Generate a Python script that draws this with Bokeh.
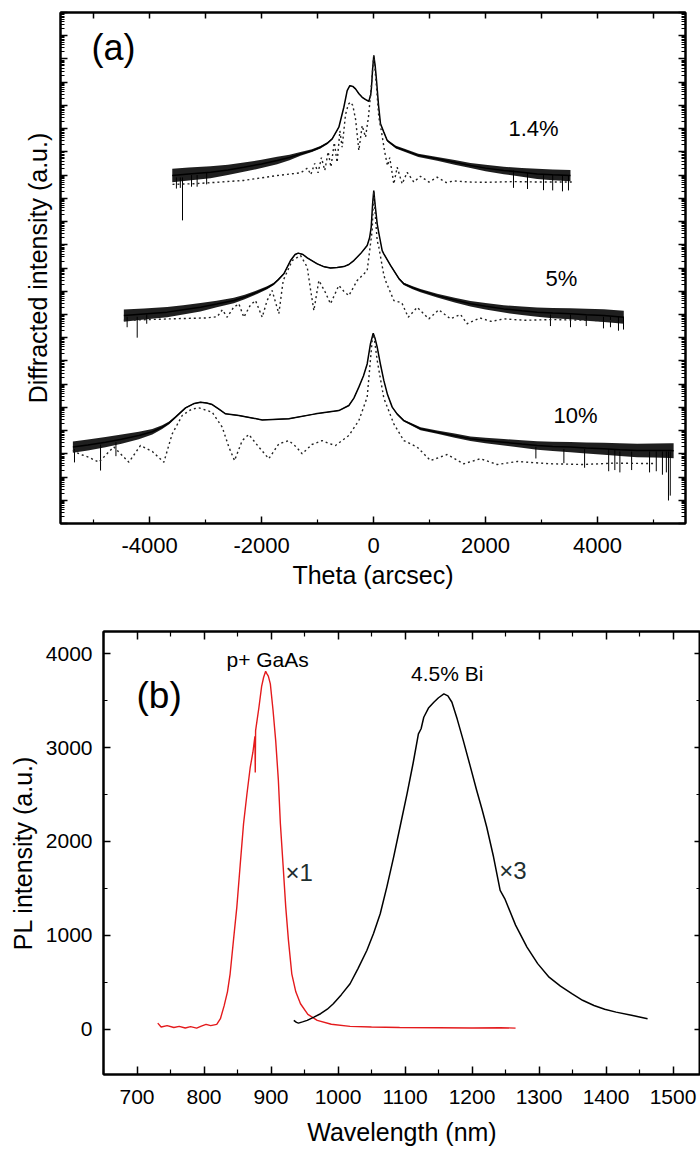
from bokeh.plotting import figure
from bokeh.models import FixedTicker, LinearAxis, LogAxis, Range1d, Label, CustomJSTickFormatter
from bokeh.embed import file_html
from bokeh.resources import INLINE

FONT = "Liberation Sans"

# ---------------- Panel (a): XRD rocking curves (theta in arcsec, log10 intensity in decades)
# 1.4 % measured
x_14 = [-3594, -3300, -2911, -2600, -2316, -2000, -1720, -1500, -1304, -1100, -947, -820, -738, -619,
        -530, -470, -423, -370, -321, -260, -202, -140, -84, -50, -36, -15, 5, 30, 54, 90, 125, 184,
        245, 304, 400, 541, 800, 1137, 1450, 1732, 2000, 2327, 2650, 2923, 3200, 3518]
d_14 = [14.98, 15.05, 15.12, 15.22, 15.34, 15.48, 15.63, 15.76, 15.91, 16.05, 16.20, 16.38, 16.56, 17.06,
        17.92, 18.64, 18.85, 18.82, 18.71, 18.50, 18.35, 18.25, 18.18, 18.45, 18.78, 19.60, 20.15, 19.70,
        19.07, 18.00, 17.21, 16.85, 16.49, 16.38, 16.20, 16.08, 15.85, 15.70, 15.55, 15.41, 15.30, 15.20,
        15.12, 15.05, 15.01, 14.98]
n_14 = [0.29, 0.28, 0.26, 0.22, 0.20, 0.18, 0.16, 0.12, 0.08, 0.06, 0.05, 0.04, 0.03, 0.02,
        0.02, 0.02, 0.02, 0.02, 0.02, 0.02, 0.02, 0.02, 0.02, 0.02, 0.02, 0.02, 0.02, 0.02,
        0.02, 0.02, 0.02, 0.03, 0.04, 0.05, 0.06, 0.06, 0.07, 0.08, 0.10, 0.11, 0.14, 0.16,
        0.19, 0.22, 0.23, 0.24]
# 1.4 % simulated
xs_14 = [-3590, -3200, -2800, -2320, -1720, -1300, -1180, -1120, -1050, -990, -930, -870, -810, -760,
         -700, -650, -600, -560, -500, -450, -410, -370, -320, -262, -202, -143, -90, -40, 5, 50, 95,
         140, 200, 250, 290, 363, 423, 512, 601, 720, 839, 990, 1137, 1300, 1435, 1700, 2030, 2500,
         3000, 3550]
ds_14 = [14.60, 14.63, 14.69, 14.77, 14.98, 15.10, 15.30, 15.02, 15.50, 15.10, 15.75, 15.20, 16.00, 15.35,
         16.40, 15.55, 16.90, 16.20, 17.60, 18.05, 18.14, 18.00, 17.40, 16.06, 17.13, 16.63, 17.50, 18.80,
         20.15, 18.90, 17.49, 16.90, 16.00, 15.40, 15.75, 14.62, 15.34, 14.62, 15.12, 14.70, 14.95, 14.70,
         14.91, 14.68, 14.75, 14.70, 14.69, 14.72, 14.70, 14.70]

# 5 % measured
x_5 = [-4459, -4100, -3685, -3400, -3090, -2800, -2495, -2300, -2078, -1900, -1780, -1700, -1601, -1482,
       -1400, -1345, -1260, -1184, -1005, -880, -768, -650, -530, -440, -351, -230, -113, -70, -41, -15,
       5, 30, 66, 95, 155, 184, 304, 452, 541, 700, 839, 1137, 1450, 1732, 2000, 2327, 2650, 2923, 3200,
       3518, 3800, 4113, 4470]
d_5 = [8.95, 9.02, 9.10, 9.20, 9.31, 9.45, 9.60, 9.75, 9.96, 10.15, 10.32, 10.50, 10.75, 11.32,
       11.58, 11.64, 11.58, 11.44, 11.18, 11.05, 11.00, 11.02, 11.06, 11.15, 11.32, 11.62, 11.97, 12.30,
       12.76, 13.80, 14.33, 13.70, 12.90, 12.50, 11.75, 11.61, 11.11, 10.55, 10.32, 10.15, 10.03, 9.81,
       9.62, 9.46, 9.35, 9.24, 9.16, 9.10, 9.06, 9.03, 8.99, 8.95, 8.88]
n_5 = [0.26, 0.24, 0.22, 0.20, 0.18, 0.14, 0.12, 0.10, 0.08, 0.06, 0.05, 0.04, 0.03, 0.02,
       0.02, 0.02, 0.02, 0.02, 0.02, 0.02, 0.02, 0.02, 0.02, 0.02, 0.02, 0.02, 0.02, 0.02,
       0.02, 0.02, 0.02, 0.02, 0.02, 0.02, 0.02, 0.03, 0.04, 0.04, 0.05, 0.06, 0.07, 0.08,
       0.10, 0.12, 0.14, 0.16, 0.18, 0.20, 0.22, 0.24, 0.26, 0.27, 0.28]
# 5 % simulated
xs_5 = [-4459, -4000, -3500, -3000, -2792, -2700, -2613, -2500, -2405, -2316, -2200, -2107, -1988, -1900,
        -1810, -1691, -1613, -1452, -1304, -1184, -1120, -1065, -976, -870, -768, -619, -530, -440, -292,
        -113, -24, 5, 40, 66, 95, 184, 214, 363, 506, 620, 780, 988, 1166, 1375, 1554, 1673, 1900, 2100,
        2327, 2700, 3200, 3800, 4470]
ds_5 = [8.75, 8.78, 8.82, 8.85, 8.90, 9.20, 8.88, 9.30, 9.46, 8.88, 9.40, 9.60, 8.88, 9.60,
        10.03, 9.03, 10.46, 11.32, 11.54, 11.04, 10.00, 9.17, 10.46, 10.00, 9.46, 10.25, 10.00, 9.81, 10.46,
        10.89, 12.61, 14.30, 13.00, 12.18, 11.90, 10.70, 10.46, 9.60, 9.50, 8.88, 9.31, 8.81, 9.20, 8.81,
        9.00, 8.60, 8.85, 8.70, 8.81, 8.75, 8.78, 8.75, 8.72]

# 10 % measured
x_10 = [-5369, -5100, -4786, -4500, -4191, -3950, -3774, -3650, -3536, -3357, -3200, -3090, -2980, -2881,
        -2760, -2643, -2405, -1988, -1512, -1036, -619, -440, -350, -262, -180, -113, -54, -5, 30, 66,
        120, 184, 250, 334, 420, 541, 839, 1137, 1450, 1732, 2000, 2327, 2650, 2923, 3200, 3518, 3800,
        4113, 4400, 4709, 5000, 5304, 5360]
d_10 = [3.29, 3.38, 3.50, 3.63, 3.79, 3.95, 4.15, 4.33, 4.58, 4.98, 5.17, 5.22, 5.19, 5.12,
        4.92, 4.72, 4.65, 4.46, 4.51, 4.72, 4.86, 5.08, 5.40, 5.87, 6.35, 6.87, 7.74, 8.19, 7.95, 7.59,
        6.90, 6.16, 5.55, 5.01, 4.72, 4.43, 4.08, 3.93, 3.78, 3.65, 3.57, 3.50, 3.42, 3.36, 3.32, 3.29,
        3.25, 3.22, 3.18, 3.14, 3.14, 3.14, 3.13]
n_10 = [0.24, 0.24, 0.22, 0.20, 0.16, 0.12, 0.08, 0.06, 0.04, 0.03, 0.02, 0.02, 0.02, 0.02,
        0.02, 0.02, 0.02, 0.02, 0.02, 0.02, 0.02, 0.02, 0.02, 0.02, 0.02, 0.02, 0.02, 0.02, 0.02, 0.02,
        0.02, 0.02, 0.02, 0.03, 0.03, 0.04, 0.06, 0.07, 0.09, 0.10, 0.12, 0.14, 0.16, 0.18, 0.20, 0.22,
        0.24, 0.26, 0.27, 0.29, 0.30, 0.32, 0.32]
# 10 % simulated
xs_10 = [-5369, -5322, -5200, -5084, -4905, -4640, -4369, -4161, -3950, -3744, -3595, -3417, -3250, -3119,
         -2881, -2702, -2583, -2482, -2345, -2227, -2048, -1870, -1691, -1512, -1380, -1274, -1100, -917,
         -800, -679, -440, -262, -113, -24, 5, 66, 184, 363, 541, 780, 1018, 1316, 1613, 1911, 2209, 2566,
         3161, 3756, 4292, 5000]
ds_10 = [3.15, 3.07, 2.95, 2.85, 2.64, 3.30, 2.64, 3.36, 3.10, 2.64, 3.86, 4.65, 4.92, 4.98,
         4.79, 4.15, 3.29, 2.71, 3.57, 3.83, 3.29, 2.79, 3.43, 3.57, 3.30, 3.00, 3.40, 3.57,
         3.45, 3.36, 3.79, 4.43, 5.44, 7.88, 8.15, 7.02, 5.40, 4.29, 3.57, 3.29, 2.71, 2.97, 2.57, 2.79,
         2.54, 2.67, 2.57, 2.54, 2.60, 2.58]

# downward noise spikes: theta, top decade, bottom decade
spike_x = [-3411, -3520, -3450, -3250, -3150, -2980, 2500, 2750, 3036, 3200, 3375, 3482,
           -4400, -4220, -4050, 3160, 3518, 3800, 4107, 4232, 4375, 4465,
           -5340, -4875, -4600, 2900, 3400, 3770, 4200, 4310, 4400, 4610, 4930, 5050, 5160, 5230, 5268, 5300]
spike_top = [14.9, 14.9, 14.9, 15.0, 15.0, 15.1, 15.2, 15.1, 15.0, 15.0, 15.0, 15.0,
             8.9, 8.9, 9.0, 9.0, 9.0, 8.95, 8.9, 8.9, 8.9, 8.9,
             3.2, 3.4, 3.5, 3.3, 3.2, 3.2, 3.2, 3.2, 3.1, 3.1, 3.1, 3.1, 3.1, 3.1, 3.1, 3.1]
spike_bot = [13.05, 14.42, 14.45, 14.5, 14.5, 14.6, 14.45, 14.4, 14.35, 14.34, 14.3, 14.34,
             8.45, 8.00, 8.6, 8.5, 8.45, 8.5, 8.4, 8.45, 8.3, 8.35,
             2.63, 2.28, 2.9, 2.8, 2.6, 2.4, 2.25, 2.3, 2.2, 2.3, 2.2, 2.25, 2.1, 2.2, 0.99, 1.2]

x_ticks_a = [-4000, -2000, 0, 2000, 4000]
x_tick_text_a = ["-4000", "-2000", "0", "2000", "4000"]
x_minor_a = [-5000, -3000, -1000, 1000, 3000, 5000]
sample_labels = ["1.4%", "5%", "10%"]

# ---------------- Panel (b): PL spectra
red_wl = [731, 736, 745, 755, 763, 772, 780, 789, 796, 803, 810, 819, 824.5, 830, 835, 839, 844, 849,
          854, 859, 864, 869, 873, 876, 876.5, 877, 882, 886, 889, 892, 894, 896, 899, 903, 907, 911,
          914, 918, 922, 926, 931, 937, 944, 955, 969, 990, 1018, 1050, 1092, 1150, 1200, 1242, 1265]
red_pl = [67, 25, 40, 20, 32, 15, 30, 14, 35, 53, 40, 53, 114, 250, 400, 592, 950, 1301,
          1750, 2188, 2500, 2790, 2950, 3120, 2734, 3180, 3429, 3650, 3748, 3812, 3784, 3760, 3677, 3400,
          3074, 2650, 2188, 1750, 1301, 950, 592, 400, 273, 160, 96, 55, 32, 25, 20, 18, 15, 18, 14]
blk_wl = [934, 938, 941, 947, 954, 964, 974, 984, 993, 1005, 1018, 1030, 1043, 1053, 1063, 1073, 1083,
          1093, 1103, 1112, 1120, 1124, 1128, 1135, 1143, 1150, 1158, 1164, 1170, 1178, 1187, 1197, 1207,
          1215, 1222, 1232, 1242, 1249, 1265, 1282, 1298, 1315, 1332, 1349, 1365, 1382, 1398, 1415, 1438,
          1462]
blk_pl = [96, 75, 67, 80, 96, 130, 167, 215, 273, 370, 486, 650, 840, 1020, 1231, 1520, 1833,
          2170, 2507, 2830, 3145, 3200, 3322, 3420, 3482, 3530, 3571, 3550, 3482, 3300, 3074, 2810, 2543,
          2340, 2152, 1840, 1479, 1390, 1110, 876, 700, 556, 460, 380, 310, 255, 215, 184, 150, 114]
x_ticks_b = [700, 800, 900, 1000, 1100, 1200, 1300, 1400, 1500]
x_minor_b = [650, 750, 850, 950, 1050, 1150, 1250, 1350, 1450, 1550]
y_ticks_b = [0, 1000, 2000, 3000, 4000]
y_minor_b = [500, 1500, 2500, 3500]

EMPTY = CustomJSTickFormatter(code="return ''")


def pw(a):
    return [10.0 ** v for v in a]


def style_axis(ax, size, tin, minor_in, show_labels=True):
    ax.axis_line_width = 2
    ax.axis_line_color = "black"
    ax.major_tick_in = tin
    ax.major_tick_out = 0
    ax.minor_tick_in = minor_in
    ax.minor_tick_out = 0
    ax.major_tick_line_width = 1.5
    ax.minor_tick_line_width = 1.2
    ax.major_tick_line_color = "black"
    ax.minor_tick_line_color = "black"
    ax.axis_label_text_font = FONT
    ax.axis_label_text_font_style = "normal"
    ax.axis_label_text_font_size = "25px"
    ax.axis_label_text_color = "black"
    ax.major_label_text_font = FONT
    ax.major_label_text_color = "black"
    if show_labels:
        ax.major_label_text_font_size = size
    else:
        ax.formatter = EMPTY
        ax.major_label_text_font_size = "1px"
        ax.major_label_standoff = 0


def label(p, x, y, text, size, color="black", align="center"):
    p.add_layout(Label(x=x, y=y, text=text, text_font=FONT, text_font_size=size, text_color=color,
                       text_align=align, text_baseline="middle"))


# ================= Panel (a)
p1 = figure(width=700, height=600, x_range=Range1d(-5590, 5572), y_range=Range1d(1.0, 1e22),
            y_axis_type="log", output_backend="svg", toolbar_location=None,
            min_border_left=60, min_border_right=15, min_border_top=12, min_border_bottom=77)
p1.grid.visible = False
p1.outline_line_color = "black"
p1.outline_line_width = 2

log_major = [10.0 ** n for n in range(0, 23)]
log_minor = [k * 10.0 ** n for n in range(0, 22) for k in range(2, 10)]

p1.xaxis.ticker = FixedTicker(ticks=x_ticks_a, minor_ticks=x_minor_a)
p1.xaxis.major_label_overrides = dict(zip(x_ticks_a, x_tick_text_a))
p1.xaxis.axis_label = "Theta (arcsec)"
style_axis(p1.xaxis[0], "22px", 7, 4)
p1.xaxis.major_label_standoff = 14
p1.xaxis.axis_label_standoff = 5

p1.yaxis.ticker = FixedTicker(ticks=log_major, minor_ticks=log_minor)
p1.yaxis.axis_label = "Diffracted intensity (a.u.)"
style_axis(p1.yaxis[0], "1px", 7, 4, show_labels=False)
p1.yaxis.axis_label_standoff = 9

ax_t1 = LinearAxis(ticker=FixedTicker(ticks=x_ticks_a + x_minor_a))
style_axis(ax_t1, "1px", 6, 4, show_labels=False)
p1.add_layout(ax_t1, "above")
ax_r1 = LogAxis(ticker=FixedTicker(ticks=log_major, minor_ticks=log_minor))
style_axis(ax_r1, "1px", 7, 4, show_labels=False)
p1.add_layout(ax_r1, "right")

for xm, dm, nm in [(x_14, d_14, n_14), (x_5, d_5, n_5), (x_10, d_10, n_10)]:
    lo = [a - b for a, b in zip(dm, nm)]
    hi = [a + b for a, b in zip(dm, nm)]
    p1.varea(x=xm, y1=pw(lo), y2=pw(hi), fill_color="black", fill_alpha=0.88)
    p1.line(xm, pw(dm), line_color="black", line_width=1.5)

p1.segment(x0=spike_x, y0=pw(spike_top), x1=spike_x, y1=pw(spike_bot), line_color="black", line_width=1)

for xs, ds in [(xs_14, ds_14), (xs_5, ds_5), (xs_10, ds_10)]:
    p1.line(xs, pw(ds), line_color="#222222", line_width=1.4, line_dash="2 3")

label(p1, -5036, 10 ** 20.49, "(a)", "36px", align="left")
for txt, lx, ly in zip(sample_labels, [2857, 3357, 3607], [17.0, 10.55, 4.67]):
    label(p1, lx, 10 ** ly, txt, "22px")

# ================= Panel (b)
p2 = figure(width=700, height=550, x_range=Range1d(650, 1541), y_range=Range1d(-480, 4235),
            output_backend="svg", toolbar_location=None,
            min_border_left=103, min_border_right=0, min_border_top=31, min_border_bottom=76)
p2.grid.visible = False
p2.outline_line_color = "black"
p2.outline_line_width = 2

p2.xaxis.ticker = FixedTicker(ticks=x_ticks_b, minor_ticks=x_minor_b)
p2.xaxis.axis_label = "Wavelength (nm)"
style_axis(p2.xaxis[0], "21px", 8, 5)
p2.xaxis.major_label_standoff = 15
p2.xaxis.axis_label_standoff = 11

p2.yaxis.ticker = FixedTicker(ticks=y_ticks_b, minor_ticks=y_minor_b)
p2.yaxis.axis_label = "PL intensity (a.u.)"
style_axis(p2.yaxis[0], "21px", 7, 4)
p2.yaxis.major_label_standoff = 11
p2.yaxis.axis_label_standoff = 6

ax_t2 = LinearAxis(ticker=FixedTicker(ticks=x_ticks_b, minor_ticks=x_minor_b))
style_axis(ax_t2, "1px", 8, 5, show_labels=False)
p2.add_layout(ax_t2, "above")
ax_r2 = LinearAxis(ticker=FixedTicker(ticks=y_ticks_b, minor_ticks=y_minor_b))
style_axis(ax_r2, "1px", 6, 4, show_labels=False)
p2.add_layout(ax_r2, "right")

p2.line(red_wl, red_pl, line_color="#e41a1c", line_width=1.4)
p2.line(blk_wl, blk_pl, line_color="black", line_width=1.5)

label(p2, 733, 3553, "(b)", "37px")
label(p2, 895, 3936, "p+ GaAs", "21px")
label(p2, 1163, 3793, "4.5% Bi", "21px")
label(p2, 942, 1665, "×1", "24px", color="#1f2f2f")
label(p2, 1261, 1686, "×3", "24px", color="#1f2f2f")

open("out.html", "w").write(file_html([p1, p2], INLINE))
